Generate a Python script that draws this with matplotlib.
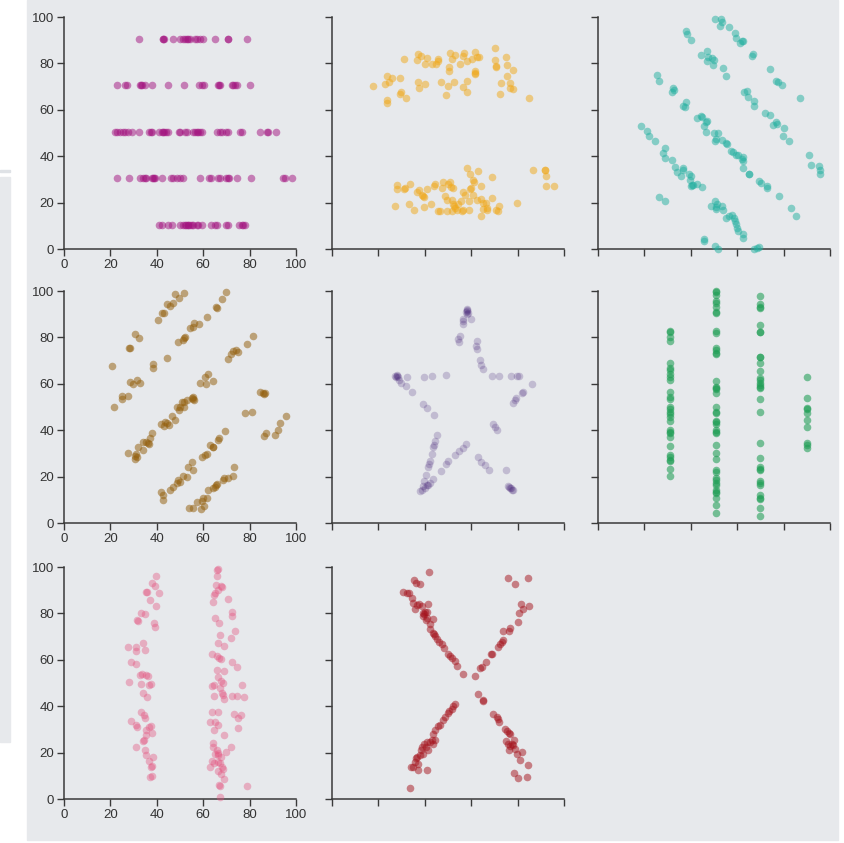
"""Datasaurus-style scatter grid: eight small panels, one shape per panel"""

import matplotlib.pyplot as plt
from matplotlib.patches import Rectangle

# h_lines: five horizontal rows, x positions per row
h_levels = [90.5, 70.5, 50.5, 30.5, 10.5]
h_rows_x = [
    [32.5, 42.5, 42.8, 43.2, 47.1, 50.0, 51.5, 52.3, 53.0, 53.6, 54.5, 56.4,
     57.2, 58.5, 60.0, 65.0, 70.5, 70.9, 78.8],
    [23.0, 26.3, 27.0, 32.8, 33.3, 33.6, 35.0, 38.0, 45.0, 51.9, 58.3, 59.3,
     60.3, 66.5, 67.0, 67.3, 72.3, 73.0, 73.7, 74.7, 80.2],
    [22.0, 23.0, 24.1, 25.3, 26.3, 27.7, 29.5, 32.3, 36.8, 37.5, 37.8, 41.1,
     42.1, 42.6, 43.0, 44.0, 45.0, 49.6, 50.0, 52.2, 53.0, 55.7, 56.5, 57.2,
     57.9, 58.6, 59.6, 65.8, 67.2, 68.0, 70.0, 70.8, 75.9, 76.6, 84.5, 87.4,
     88.0, 91.2],
    [23.0, 28.0, 32.8, 34.2, 34.8, 35.2, 37.8, 38.5, 38.9, 39.2, 42.4, 46.1,
     46.8, 48.6, 50.0, 51.4, 58.6, 62.6, 63.2, 66.5, 67.2, 70.0, 70.6, 71.0,
     74.7, 80.5, 94.5, 95.1, 98.4],
    [41.1, 42.4, 45.0, 46.4, 50.0, 51.1, 52.2, 52.8, 53.3, 53.6, 54.3, 55.0,
     55.7, 57.2, 57.9, 59.6, 63.2, 65.0, 65.8, 70.0, 70.8, 75.4, 76.6, 77.3,
     78.0],
]

high_lines = [
    (17.8, 70.4), (22.8, 71.1), (23.6, 74.4), (24.7, 71.8), (25.7, 73.9),
    (23.6, 64.4), (23.6, 62.9), (29.3, 67.0), (29.7, 67.5), (29.5, 73.7),
    (30.9, 81.9), (32.0, 64.9), (36.9, 84.2), (36.8, 81.3), (38.4, 83.3),
    (40.8, 82.3), (40.1, 79.7), (37.2, 72.0), (37.5, 69.4), (39.9, 71.3),
    (43.0, 79.7), (44.7, 79.7), (45.5, 82.0), (45.5, 80.9), (47.1, 72.0),
    (49.0, 66.5), (50.0, 70.4), (50.6, 76.6), (50.6, 78.4), (50.9, 84.5),
    (51.6, 81.9), (53.0, 83.8), (52.7, 72.0), (55.2, 79.7), (56.3, 83.3),
    (57.0, 84.5), (58.3, 81.2), (58.0, 72.6), (58.0, 67.5), (56.3, 69.8),
    (60.2, 81.9), (61.6, 84.9), (61.6, 76.6), (61.6, 75.6), (61.8, 75.9),
    (62.4, 82.8), (63.5, 82.8), (70.4, 86.6), (70.3, 81.3), (70.7, 78.7),
    (70.9, 78.4), (72.4, 67.0), (72.8, 71.6), (75.0, 82.8), (75.6, 79.5),
    (75.3, 74.7), (76.7, 71.6), (76.7, 69.4), (78.2, 69.0), (77.9, 77.0),
    (85.0, 64.9),
    (27.2, 18.4), (28.2, 27.7), (27.9, 26.0), (31.2, 25.9), (31.4, 26.1),
    (33.6, 28.2), (33.3, 19.5), (35.5, 16.7), (36.5, 24.4), (37.6, 25.6),
    (38.6, 23.4), (39.4, 22.7), (39.6, 22.3), (39.7, 18.1), (41.1, 25.9),
    (42.7, 19.5), (44.0, 27.0), (44.4, 28.2), (45.5, 16.5), (46.6, 16.2),
    (47.3, 26.3), (47.8, 28.7), (48.8, 22.7), (49.4, 21.3), (49.4, 16.2),
    (50.0, 28.0), (50.9, 28.7), (51.1, 26.7), (52.0, 26.3), (51.6, 21.3),
    (51.6, 16.2), (52.3, 19.5), (53.0, 17.7), (53.7, 17.0), (52.7, 18.4),
    (54.5, 19.5), (55.5, 20.8), (55.9, 16.2), (56.3, 17.0), (56.3, 24.4),
    (57.3, 23.4), (58.0, 34.9), (59.0, 20.5), (59.0, 17.0), (59.5, 25.9),
    (59.9, 26.3), (59.5, 32.3), (60.9, 29.9), (61.2, 28.7), (60.9, 23.4),
    (62.4, 21.3), (63.1, 33.5), (64.1, 27.0), (64.4, 21.6), (64.2, 14.1),
    (65.2, 19.8), (65.2, 17.2), (66.4, 19.8), (66.7, 17.7), (66.9, 16.7),
    (68.8, 30.9), (69.1, 22.0), (70.7, 16.7), (71.7, 16.2), (72.1, 18.7),
    (79.6, 19.8), (86.5, 34.2), (91.7, 33.9), (91.8, 34.1), (92.2, 31.6),
    (92.2, 27.3), (95.8, 27.3),
]

slant_down = [
    (50.4, 99.1), (53.0, 99.1), (53.5, 97.7), (52.6, 96.0), (56.6, 95.7),
    (59.2, 93.1), (59.5, 90.9), (61.2, 88.8), (61.9, 89.5), (62.6, 89.5),
    (66.5, 83.3), (66.9, 84.2), (74.1, 77.7), (76.7, 72.4), (77.7, 71.8),
    (79.2, 70.8), (87.1, 64.9),
    (37.9, 93.8), (38.2, 92.7), (40.1, 90.1), (44.4, 83.5), (47.1, 85.2),
    (47.6, 82.6), (47.1, 80.9), (49.0, 82.3), (50.0, 81.3), (49.7, 79.5),
    (53.7, 78.0), (55.0, 74.7), (63.1, 67.5), (64.4, 68.1), (64.8, 65.5),
    (67.4, 63.6), (67.4, 61.8), (72.0, 58.6), (74.1, 57.9), (75.3, 53.6),
    (76.7, 54.6), (77.3, 54.0), (80.2, 52.2), (79.6, 48.6), (82.5, 46.4),
    (90.9, 40.7), (91.7, 36.2), (95.4, 35.6), (95.7, 34.2), (95.8, 32.5),
    (25.3, 74.9), (26.3, 72.6), (32.5, 69.4), (32.0, 67.5), (32.8, 68.4),
    (37.8, 63.2), (36.8, 61.8), (37.4, 61.1), (42.5, 56.5), (44.4, 57.5),
    (45.0, 56.8), (47.1, 55.0), (46.6, 54.6), (45.7, 53.2), (46.6, 50.3),
    (50.1, 50.0), (51.9, 50.0), (50.9, 47.4), (50.4, 46.4), (53.3, 47.1),
    (55.2, 45.7), (55.5, 45.3), (57.2, 42.1), (58.0, 41.7), (59.5, 40.7),
    (60.5, 40.7), (62.4, 39.5), (62.6, 37.8), (61.9, 38.8), (62.6, 34.9),
    (65.2, 32.3), (65.3, 32.4), (69.5, 29.5), (70.1, 28.4), (72.7, 27.0),
    (73.0, 26.3), (78.0, 22.7), (83.0, 17.7), (85.3, 14.4),
    (18.4, 53.2), (21.3, 51.0), (22.1, 48.9), (24.4, 46.4), (28.9, 43.5),
    (27.9, 41.4), (28.9, 39.2), (31.8, 38.5), (33.2, 35.2), (34.2, 33.0),
    (35.6, 31.3), (36.5, 34.9), (36.8, 34.2), (39.2, 32.5), (39.9, 31.3),
    (39.7, 29.9), (40.4, 27.7), (40.1, 27.0), (40.8, 27.7), (42.5, 28.0),
    (44.8, 26.6), (26.4, 22.3), (28.9, 20.5),
    (48.6, 18.7), (50.4, 20.8), (51.1, 19.5), (50.9, 18.1), (50.7, 17.2),
    (53.3, 18.7), (54.0, 17.0), (55.2, 13.4), (56.6, 14.2), (57.6, 14.8),
    (58.6, 13.4), (59.2, 11.9), (59.3, 10.9), (59.8, 9.1), (60.2, 7.6),
    (62.6, 6.5), (62.6, 4.7), (45.7, 4.5), (45.7, 3.3), (50.4, 1.1),
    (51.6, 0.0), (67.2, 0.0), (68.4, 0.4), (69.5, 0.9),
]

slant_up = [
    (20.5, 67.7), (21.6, 49.9), (24.9, 54.7), (25.1, 53.4), (27.7, 54.7),
    (28.2, 75.3), (28.3, 75.5), (30.6, 81.5), (32.5, 79.9), (28.4, 60.6),
    (29.9, 59.8), (31.6, 61.6), (32.8, 60.2), (27.7, 30.0), (30.6, 28.9),
    (31.0, 29.7), (31.3, 28.6), (30.6, 27.6), (31.8, 32.9), (33.9, 31.5),
    (34.2, 35.1), (35.2, 34.8), (36.4, 34.3), (36.8, 33.9), (37.1, 36.5),
    (38.1, 38.6), (38.2, 68.5), (38.2, 67.0), (40.7, 87.5), (42.1, 90.4),
    (43.1, 90.7), (44.3, 94.4), (45.7, 93.5), (47.1, 94.7), (47.8, 98.6),
    (49.7, 96.8), (51.9, 99.3), (44.3, 71.3), (41.7, 42.5), (43.1, 42.0),
    (43.5, 43.7), (44.3, 43.2), (45.4, 42.1), (46.4, 46.3), (47.8, 44.4),
    (48.6, 50.1), (49.4, 48.7), (50.0, 49.9), (50.7, 52.3), (51.9, 50.1),
    (51.9, 52.3), (52.9, 53.0), (55.0, 54.0), (55.7, 54.5), (56.2, 53.0),
    (55.7, 53.3), (49.3, 78.2), (51.1, 78.9), (52.2, 80.3), (51.9, 79.6),
    (54.3, 83.9), (55.5, 84.3), (56.0, 86.4), (58.3, 85.6), (61.5, 88.9),
    (65.5, 93.2), (65.8, 92.5), (68.0, 96.4), (69.8, 99.7), (58.6, 60.2),
    (60.8, 63.1), (61.2, 59.8), (62.2, 64.2), (64.1, 61.2), (70.5, 70.5),
    (71.8, 72.7), (72.8, 74.3), (74.1, 74.6), (75.1, 73.9), (79.0, 77.0),
    (81.6, 80.7), (78.0, 47.6), (80.9, 48.0), (84.5, 56.6), (85.9, 55.9),
    (86.6, 56.2), (86.4, 55.5), (86.4, 37.5), (86.9, 38.6), (90.9, 37.9),
    (92.4, 40.1), (93.1, 43.0), (95.7, 46.1),
    (41.8, 13.5), (42.8, 12.1), (42.8, 10.0), (45.7, 14.2), (47.1, 15.7),
    (48.6, 17.1), (49.3, 18.5), (50.0, 17.8), (51.1, 20.4), (52.9, 19.8),
    (53.6, 24.3), (55.0, 26.4), (55.7, 22.8), (59.3, 28.3), (60.8, 29.3),
    (61.8, 29.6), (62.9, 33.6), (64.1, 32.9), (64.4, 32.6), (66.5, 35.8),
    (66.9, 36.5), (69.4, 39.7),
    (54.0, 6.3), (55.5, 6.6), (57.2, 9.2), (58.9, 5.9), (59.3, 9.6),
    (60.3, 7.3), (59.8, 10.6), (61.5, 10.6), (62.2, 14.2), (64.4, 14.9),
    (65.1, 15.7), (66.1, 16.7), (65.5, 16.4), (68.7, 18.5), (69.1, 19.3),
    (70.8, 19.5), (72.7, 20.3), (73.4, 24.3),
]

star = [
    (58.0, 91.9), (58.3, 91.2), (58.0, 90.1), (58.5, 90.5), (57.8, 91.0),
    (58.2, 92.3), (56.6, 87.8), (56.3, 86.9), (56.6, 85.9), (59.8, 88.1),
    (55.2, 80.5), (54.5, 79.1), (54.9, 78.0), (62.4, 78.3), (62.1, 76.5),
    (62.4, 75.1), (63.8, 70.3), (64.2, 68.1), (64.9, 66.2), (69.0, 63.4),
    (72.1, 63.4), (77.2, 63.4), (79.6, 63.4), (80.6, 63.4), (86.4, 59.9),
    (82.5, 56.6), (81.8, 56.2), (79.3, 53.7), (78.9, 53.0), (77.9, 51.9),
    (69.5, 42.8), (70.3, 41.4), (71.0, 39.9), (75.0, 22.7),
    (76.0, 15.8), (76.7, 15.1), (77.4, 14.4), (76.4, 15.4), (77.9, 14.4),
    (77.2, 14.9), (67.8, 23.0), (66.0, 24.9), (64.2, 26.1), (63.1, 28.6),
    (57.6, 34.1), (56.3, 32.5), (54.9, 30.9), (53.0, 29.3), (50.1, 26.7),
    (49.1, 25.3), (47.0, 22.6), (45.1, 37.8), (44.4, 35.3), (44.0, 33.6),
    (43.7, 32.9), (43.0, 29.6), (42.2, 26.7), (42.0, 25.3), (41.5, 24.3),
    (40.5, 20.8), (39.7, 17.9), (40.8, 16.5), (39.4, 15.8), (38.6, 14.1),
    (37.9, 13.9), (43.7, 19.0), (42.2, 17.1), (41.5, 16.4), (40.1, 15.2),
    (39.4, 51.1), (41.1, 49.4), (44.0, 46.6), (34.3, 56.6), (31.8, 59.1),
    (29.7, 60.5), (29.0, 61.6), (27.2, 63.4), (27.9, 63.4), (28.6, 63.1),
    (27.6, 62.8), (28.2, 63.6), (32.5, 63.1), (39.7, 63.1), (43.2, 63.4),
    (49.1, 63.8),
]

v_cols = [31.0, 50.7, 70.0, 90.0]
v_cols_y = [
    [82.9, 82.5, 80.3, 78.4, 68.8, 66.7, 65.9, 64.2, 63.1, 61.6, 56.3, 54.5,
     53.3, 50.1, 49.0, 48.0, 47.0, 45.8, 44.1, 40.1, 39.4, 38.6, 37.2, 33.3,
     29.3, 28.6, 27.2, 26.7, 23.4, 20.3],
    [100.0, 99.4, 98.3, 95.8, 95.0, 93.2, 91.1, 90.7, 82.8, 81.8, 75.6, 74.6,
     73.4, 72.7, 61.2, 58.8, 58.0, 57.8, 56.2, 50.1, 48.0, 47.6, 44.1, 43.7,
     42.7, 40.1, 39.4, 38.6, 33.6, 30.0, 27.4, 22.8, 22.1, 19.3, 18.5, 17.1,
     16.4, 14.2, 13.5, 12.8, 10.9, 7.8, 4.2],
    [97.8, 94.3, 93.0, 92.5, 85.3, 82.5, 82.2, 71.7, 71.4, 68.8, 65.5, 62.4,
     61.6, 60.2, 59.5, 58.8, 58.0, 53.3, 48.0, 34.3, 27.9, 24.3, 23.1, 22.8,
     18.1, 17.4, 16.4, 12.1, 10.9, 10.2, 6.6, 3.0],
    [62.8, 53.7, 49.7, 49.0, 47.3, 44.4, 41.2, 34.3, 33.6, 32.5],
]

wide_lines = [
    (39.5, 96.1), (38.1, 93.0), (39.2, 91.8), (40.9, 88.9), (35.2, 89.3),
    (35.9, 89.3), (36.9, 85.7), (39.5, 83.1), (33.0, 80.0), (34.9, 79.6),
    (31.6, 77.1), (32.0, 76.7), (38.8, 76.0), (39.1, 74.1), (27.7, 65.7),
    (30.9, 65.7), (31.2, 64.0), (34.8, 64.2), (34.1, 67.1), (29.0, 58.9),
    (30.9, 58.2), (28.2, 50.6), (32.8, 53.5), (33.8, 53.8), (35.2, 53.5),
    (36.1, 53.1), (33.3, 49.4), (36.5, 49.1), (37.5, 49.4), (34.1, 45.8),
    (35.9, 44.0), (33.2, 37.4), (34.3, 36.0), (35.1, 34.7), (28.7, 33.6),
    (30.9, 31.8), (31.6, 31.0), (36.6, 31.0), (37.4, 31.4), (35.2, 29.9),
    (35.5, 27.8), (38.1, 28.5), (34.5, 25.3), (34.1, 24.9), (30.9, 22.5),
    (34.8, 21.3), (35.2, 18.9), (38.4, 18.2), (36.6, 16.2), (37.4, 13.9),
    (38.1, 14.3), (36.9, 9.6), (38.1, 9.9),
    (65.8, 98.7), (66.3, 99.0), (65.8, 96.0), (65.5, 92.1), (67.6, 91.8),
    (67.9, 91.4), (66.5, 90.0), (65.1, 88.6), (64.8, 87.8), (64.1, 84.7),
    (70.8, 86.3), (72.3, 78.7), (72.5, 80.6), (73.9, 72.4), (71.9, 69.5),
    (65.1, 77.9), (67.0, 76.0), (67.4, 70.9), (66.5, 67.1), (69.1, 65.8),
    (66.8, 60.8), (67.6, 60.4), (63.7, 62.4), (65.8, 61.8), (74.4, 57.1),
    (72.6, 59.2), (69.1, 55.2), (65.8, 55.7), (66.3, 52.4), (63.7, 48.6),
    (64.8, 49.3), (68.4, 50.0), (67.7, 51.0), (67.4, 47.8), (68.0, 45.8),
    (68.4, 44.8), (68.8, 42.9), (64.8, 44.3), (72.6, 44.3), (74.7, 44.6),
    (76.8, 49.2), (77.5, 43.9), (73.3, 36.8), (75.1, 34.7), (76.1, 36.1),
    (74.9, 30.7), (63.0, 33.3), (64.8, 29.9), (63.8, 37.4), (66.5, 37.7),
    (65.1, 33.3), (66.5, 31.7), (64.1, 24.2), (64.4, 22.2), (65.8, 21.3),
    (66.5, 19.9), (65.1, 19.3), (66.5, 18.9), (64.8, 15.7), (67.6, 18.3),
    (67.2, 15.4), (68.2, 13.6), (68.7, 12.9), (66.5, 12.2), (67.6, 10.9),
    (66.2, 15.8), (63.0, 13.8), (63.7, 16.4), (66.9, 6.0), (67.4, 5.6),
    (68.8, 8.8), (67.4, 0.7), (68.8, 27.4), (69.7, 20.3), (71.9, 22.2),
    (78.7, 5.6),
]

x_shape = [
    (41.7, 97.9), (35.5, 94.3), (36.1, 93.3), (37.9, 92.6), (30.7, 89.4),
    (32.5, 88.7), (33.3, 88.6), (34.3, 86.6), (35.1, 84.3), (35.8, 82.1),
    (36.5, 83.7), (37.6, 84.0), (38.6, 83.3), (39.4, 80.0), (39.4, 79.0),
    (39.6, 79.6), (40.1, 80.4), (40.5, 77.1), (41.5, 84.0), (40.8, 80.4),
    (41.1, 78.0), (42.2, 75.4), (43.4, 77.5), (42.2, 73.2), (43.7, 71.4),
    (43.9, 71.1), (44.4, 70.4), (45.1, 69.0), (46.3, 67.8), (47.3, 66.8),
    (48.3, 65.1), (50.1, 62.5), (50.9, 61.8), (51.6, 60.8), (53.0, 59.4),
    (54.0, 57.5), (56.6, 53.9),
    (61.6, 53.2), (63.8, 56.4), (64.8, 57.1), (66.2, 59.2), (68.4, 62.5),
    (68.8, 62.5), (71.4, 65.7), (72.4, 66.8), (73.1, 67.5), (73.9, 68.5),
    (73.9, 72.2), (76.4, 72.5), (76.7, 73.7), (80.0, 76.5), (80.6, 80.0),
    (81.3, 84.0), (82.5, 81.8), (85.1, 83.1), (75.7, 95.4), (78.9, 92.6),
    (84.6, 95.4),
    (53.0, 41.1), (52.3, 39.9), (51.6, 38.9), (50.6, 37.9), (50.1, 37.1),
    (48.7, 35.3), (48.0, 33.9), (46.6, 31.8), (45.8, 31.3), (44.4, 29.6),
    (43.7, 28.2), (44.4, 25.3), (43.0, 25.3), (42.2, 24.6), (40.8, 24.6),
    (39.7, 23.9), (40.5, 22.5), (38.6, 22.5), (38.2, 21.0), (41.5, 21.3),
    (43.7, 23.6), (39.4, 19.6), (37.9, 18.9), (36.5, 18.2), (36.2, 17.5),
    (35.8, 16.0), (37.2, 15.3), (33.9, 13.9), (34.8, 13.6), (37.2, 12.4),
    (40.8, 12.4), (33.6, 4.9),
    (63.1, 45.1), (64.9, 42.8), (65.2, 42.2), (69.5, 36.8), (71.0, 35.3),
    (71.7, 34.6), (72.1, 33.2), (74.6, 30.3), (75.6, 29.3), (76.4, 28.5),
    (76.7, 27.9), (75.0, 25.0), (76.0, 23.6), (76.7, 22.7), (77.4, 23.9),
    (78.4, 25.6), (78.2, 23.2), (78.9, 21.7), (76.4, 21.3), (79.6, 19.6),
    (81.8, 20.3), (81.0, 16.7), (78.6, 11.0), (80.3, 8.9), (83.9, 9.3),
    (84.3, 14.6),
]


def split(points):
    return [p[0] for p in points], [p[1] for p in points]


h_x, h_y = [], []
for level, xs in zip(h_levels, h_rows_x):
    h_x += xs
    h_y += [level] * len(xs)

v_x, v_y = [], []
for col, ys in zip(v_cols, v_cols_y):
    v_x += [col] * len(ys)
    v_y += ys

# (x, y, colour, alpha) per panel, row-major
panels = [
    (h_x, h_y, "#a3127f", 0.5),
    (*split(high_lines), "#f0a818", 0.5),
    (*split(slant_down), "#22b0a0", 0.5),
    (*split(slant_up), "#94600e", 0.52),
    (*split(star), "#3e1a72", 0.22),
    (v_x, v_y, "#1f9e55", 0.58),
    (*split(wide_lines), "#e4547f", 0.4),
    (*split(x_shape), "#a5121c", 0.5),
]

W, H = 844, 843
BG = "#e7e9ec"
plt.rcParams["font.family"] = ["Liberation Sans", "DejaVu Sans"]
fig = plt.figure(figsize=(W / 100, H / 100), dpi=100, facecolor="white")

# grey card behind the grid, plus the sliver of the neighbouring card at the left
for rect, col in [
    ((27 / W, 1 - 840 / H, 811 / W, 840 / H), BG),
    ((0, 1 - 742 / H, 10 / W, 565 / H), BG),
    ((0, 1 - 172 / H, 10 / W, 2 / H), "#dfe2e6"),
]:
    fig.patches.append(Rectangle(rect[:2], rect[2], rect[3],
                                 transform=fig.transFigure, color=col, zorder=-5))

col_left = [64, 332, 598]
row_bottom = [249, 523, 799]
size = 232

for i, (xs, ys, color, alpha) in enumerate(panels):
    r, c = divmod(i, 3)
    ax = fig.add_axes([col_left[c] / W, 1 - row_bottom[r] / H, size / W, size / H])
    ax.set_facecolor("none")
    ax.scatter(xs, ys, s=30, color=color, alpha=alpha, linewidths=0,
               clip_on=False, zorder=3)
    ax.set_xlim(0, 100)
    ax.set_ylim(0, 100)
    ax.set_xticks(range(0, 101, 20))
    ax.set_yticks(range(0, 101, 20))
    for side in ("top", "right"):
        ax.spines[side].set_visible(False)
    for side in ("left", "bottom"):
        ax.spines[side].set_color("#3a3a3a")
        ax.spines[side].set_linewidth(1.1)
    ax.tick_params(length=5, width=1.0, color="#3a3a3a", labelcolor="#333333",
                   labelsize=9.5, pad=2)
    if c != 0:
        ax.set_xticklabels([])
        ax.set_yticklabels([])

fig.savefig("out.png", dpi=100, facecolor="white")
